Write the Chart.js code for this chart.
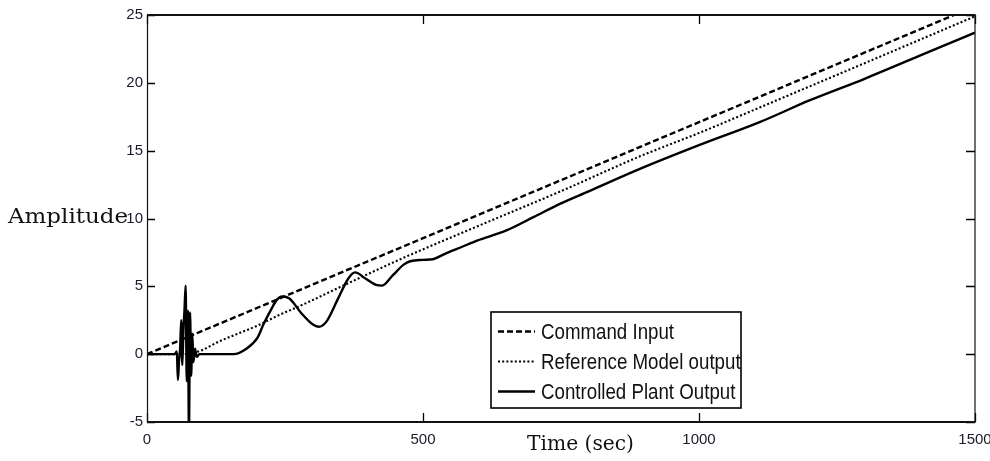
<!DOCTYPE html>
<html>
<head>
<meta charset="utf-8">
<script src="https://cdn.jsdelivr.net/npm/chart.js@4/dist/chart.umd.min.js"></script>
<style>
  html, body { margin: 0; padding: 0; background: #fff; }
  #wrap { width: 990px; height: 461px; }
</style>
</head>
<body>
<div id="wrap"><canvas id="c" width="990" height="461"></canvas></div>
<script>
// ---- data ----
const seriesLabels = ['Command Input', 'Reference Model output', 'Controlled Plant Output'];

const cmdTime = [0, 500, 1000, 1500];
const cmdValue = [0, 8.55, 17.1, 25.65];

const refTime = [0, 60, 90, 133, 170, 200, 240, 278, 350, 400, 459, 600, 749, 894, 1000, 1111, 1300, 1500];
const refValue = [0, 0, 0.15, 0.98, 1.6, 2.1, 2.9, 3.57, 4.95, 5.9, 7.0, 9.45, 12.0, 14.6, 16.3, 18.2, 21.45, 24.9];

const plantTime = [0, 50, 54, 56, 58, 60, 62, 64, 66, 68, 70, 72, 74, 76, 78, 80, 82, 84, 87, 90,
  95, 157, 180, 200, 211, 225, 235, 245, 258, 280, 300, 311, 325, 345, 365, 377, 395, 415, 426, 445,
  465, 477, 500, 518, 540, 570, 598, 650, 700, 749, 800, 894, 1000, 1111, 1200, 1300, 1400, 1500];
const plantValue = [0, 0, 0.2, -1.9, -0.5, 0.4, 2.5, -0.8, 1.8, 3.3, 5.05, -2.0, 3.2, -5.6, 3.07, -1.6, 1.5, -0.6, 0.4, -0.2,
  0, 0, 0.4, 1.2, 2.2, 3.3, 4.0, 4.25, 4.1, 3.0, 2.2, 2.02, 2.4, 4.0, 5.6, 6.03, 5.6, 5.1, 5.05, 5.8,
  6.6, 6.85, 6.95, 7.0, 7.4, 7.9, 8.37, 9.1, 10.1, 11.1, 12.0, 13.67, 15.4, 17.12, 18.7, 20.3, 22.0, 23.7];

const xTicks = [0, 500, 1000, 1500];
const yTicks = [-5, 0, 5, 10, 15, 20, 25];
const xTitle = 'Time (sec)';
const yTitle = 'Amplitude';

const pts = (t, v) => t.map((x, i) => ({ x: x, y: v[i] }));

// ---- plugins ----
const frameAndTicks = {
  id: 'frameAndTicks',
  afterDatasetsDraw(chart) {
    const { ctx, chartArea: a, scales } = chart;
    ctx.save();
    ctx.strokeStyle = '#000';
    ctx.lineWidth = 1.3;
    xTicks.forEach(v => {
      const px = Math.round(scales.x.getPixelForValue(v)) + 0.5;
      ctx.beginPath();
      ctx.moveTo(px, a.bottom); ctx.lineTo(px, a.bottom - 9);
      ctx.moveTo(px, a.top); ctx.lineTo(px, a.top + 9);
      ctx.stroke();
    });
    yTicks.forEach(v => {
      const py = Math.round(scales.y.getPixelForValue(v)) + 0.5;
      ctx.beginPath();
      ctx.moveTo(a.left, py); ctx.lineTo(a.left + 8, py);
      ctx.moveTo(a.right, py); ctx.lineTo(a.right - 9, py);
      ctx.stroke();
    });
    // box
    ctx.lineWidth = 1.2;
    ctx.strokeStyle = '#111';
    ctx.beginPath();
    ctx.moveTo(a.left + 0.5, a.top); ctx.lineTo(a.left + 0.5, a.bottom);
    ctx.moveTo(a.right, a.top); ctx.lineTo(a.right, a.bottom);
    ctx.stroke();
    ctx.lineWidth = 2;
    ctx.beginPath();
    ctx.moveTo(a.left, a.top); ctx.lineTo(a.right + 0.6, a.top);
    ctx.moveTo(a.left, a.bottom); ctx.lineTo(a.right + 0.6, a.bottom);
    ctx.stroke();
    ctx.restore();
  }
};

const legendAndTitles = {
  id: 'legendAndTitles',
  afterDraw(chart) {
    const { ctx } = chart;
    ctx.save();
    ctx.fillStyle = '#111';
    ctx.textBaseline = 'alphabetic';
    ctx.textAlign = 'left';
    const drawFit = (text, x, y, font, width) => {
      ctx.font = font;
      const w = ctx.measureText(text).width;
      ctx.save();
      ctx.translate(x, y);
      ctx.scale(width / w, 1);
      ctx.fillText(text, 0, 0);
      ctx.restore();
    };
    drawFit(yTitle, 8, 223, '21px "DejaVu Serif"', 120);
    drawFit(xTitle, 527, 450, '20px "DejaVu Serif"', 107);

    // legend box
    const bx = 491, by = 312, bw = 250, bh = 96;
    ctx.fillStyle = '#fff';
    ctx.fillRect(bx, by, bw, bh);
    const rowY = [331.5, 361.5, 391.5];
    chart.data.datasets.forEach((ds, i) => {
      ctx.strokeStyle = '#000';
      ctx.lineWidth = ds.borderWidth;
      ctx.setLineDash(ds.borderDash || []);
      ctx.beginPath();
      ctx.moveTo(498, rowY[i]); ctx.lineTo(535, rowY[i]);
      ctx.stroke();
      ctx.setLineDash([]);
      ctx.fillStyle = '#111';
      ctx.font = '22px "Liberation Sans"';
      ctx.textBaseline = 'middle';
      ctx.save();
      ctx.translate(541, rowY[i] + 1);
      ctx.scale(0.85, 1);
      ctx.fillText(ds.label, 0, 0);
      ctx.restore();
    });
    ctx.strokeStyle = '#000';
    ctx.lineWidth = 1.6;
    ctx.strokeRect(bx, by, bw, bh);
    ctx.restore();
  }
};

const tickFont = { family: 'Liberation Sans', size: 15 };

new Chart(document.getElementById('c'), {
  type: 'line',
  data: {
    datasets: [
      { label: seriesLabels[0], data: pts(cmdTime, cmdValue), borderColor: '#000', borderWidth: 2.4,
        borderDash: [6, 3], pointRadius: 0, tension: 0 },
      { label: seriesLabels[1], data: pts(refTime, refValue), borderColor: '#000', borderWidth: 2.1,
        borderDash: [2, 2.2], pointRadius: 0, cubicInterpolationMode: 'monotone' },
      { label: seriesLabels[2], data: pts(plantTime, plantValue), borderColor: '#000', borderWidth: 2.4,
        pointRadius: 0, cubicInterpolationMode: 'monotone' }
    ]
  },
  options: {
    responsive: false,
    animation: false,
    events: [],
    layout: { padding: { top: 15, right: 15, bottom: 0, left: 0 } },
    plugins: { legend: { display: false }, tooltip: { enabled: false }, title: { display: false } },
    scales: {
      x: {
        type: 'linear', min: 0, max: 1500,
        afterBuildTicks: s => { s.ticks = xTicks.map(v => ({ value: v })); },
        afterFit: s => { s.height = 39; s.paddingLeft = 0; s.paddingRight = 0; },
        grid: { display: false, drawTicks: false },
        border: { display: false },
        ticks: { padding: 9, color: '#1a1a2a', font: tickFont, maxRotation: 0,
                 callback: v => String(v) }
      },
      y: {
        type: 'linear', min: -5, max: 25,
        afterBuildTicks: s => { s.ticks = yTicks.map(v => ({ value: v })); },
        afterFit: s => { s.width = 147; s.paddingTop = 0; s.paddingBottom = 0; },
        grid: { display: false, drawTicks: false },
        border: { display: false },
        ticks: { padding: 4, color: '#1a1a2a', font: tickFont, callback: v => String(v) }
      }
    }
  },
  plugins: [frameAndTicks, legendAndTitles]
});
</script>
</body>
</html>
